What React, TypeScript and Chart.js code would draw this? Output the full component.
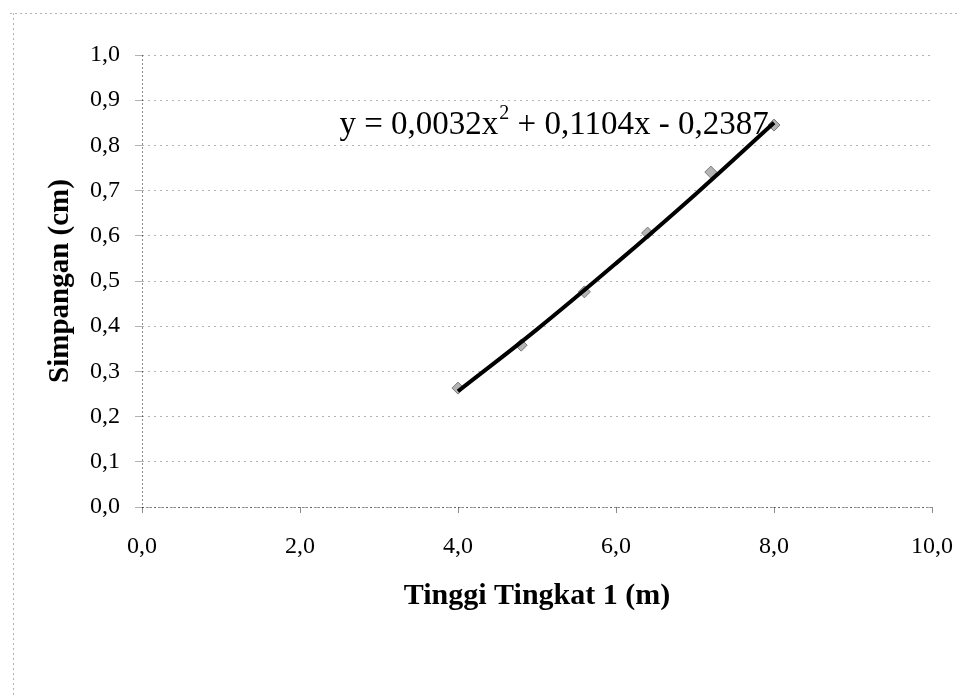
import React, { useEffect, useRef } from "react";
import { Chart, registerables } from "chart.js";

Chart.register(...registerables);

// Measured points (Tinggi Tingkat 1 vs Simpangan)
const pointX = [4.0, 4.8, 5.6, 6.4, 7.2, 8.0];
const pointY = [0.263, 0.358, 0.476, 0.606, 0.741, 0.845];

// Trendline
const trendX = [4.0, 5.0, 6.0, 7.0, 8.0];
const trendY = [0.256, 0.393, 0.539, 0.691, 0.85];

const xTicks = [0, 2, 4, 6, 8, 10];
const yTicks = [0, 0.1, 0.2, 0.3, 0.4, 0.5, 0.6, 0.7, 0.8, 0.9, 1.0];

const xTitle = "Tinggi Tingkat 1 (m)";
const yTitle = "Simpangan (cm)";
const eqMain = "y = 0,0032x";
const eqSup = "2";
const eqRest = " + 0,1104x - 0,2387";

const FONT = '"Liberation Serif", "Times New Roman", serif';

const fmt = (v: number) => v.toFixed(1).replace(".", ",");

const decorPlugin = {
  id: "decor",
  beforeDraw(chart: any) {
    const ctx = chart.ctx;
    ctx.save();
    ctx.strokeStyle = "rgba(0,0,0,0.3)";
    ctx.lineWidth = 1;
    ctx.setLineDash([2, 3]);
    ctx.beginPath();
    ctx.moveTo(10, 13.5);
    ctx.lineTo(958, 13.5);
    ctx.moveTo(13.5, 13);
    ctx.lineTo(13.5, 697);
    ctx.stroke();
    ctx.restore();
  },
  afterDatasetsDraw(chart: any) {
    const ctx = chart.ctx;
    const xs = chart.scales.x;
    const ys = chart.scales.y;
    const a = chart.chartArea;
    ctx.save();
    // dotted axis lines
    ctx.strokeStyle = "rgba(0,0,0,0.45)";
    ctx.lineWidth = 1;
    ctx.setLineDash([2, 2]);
    ctx.beginPath();
    ctx.moveTo(Math.round(a.left) + 0.5, a.top);
    ctx.lineTo(Math.round(a.left) + 0.5, a.bottom);
    ctx.moveTo(a.left, Math.round(a.bottom) + 0.5);
    ctx.lineTo(a.right, Math.round(a.bottom) + 0.5);
    ctx.stroke();
    ctx.setLineDash([]);
    // equation
    const x0 = xs.getPixelForValue(2.5);
    const yb = ys.getPixelForValue(0.826);
    ctx.fillStyle = "#000";
    ctx.textBaseline = "alphabetic";
    ctx.textAlign = "left";
    ctx.font = `33px ${FONT}`;
    ctx.fillText(eqMain, x0, yb);
    const w = ctx.measureText(eqMain).width;
    ctx.font = `20px ${FONT}`;
    ctx.fillText(eqSup, x0 + w + 1, yb - 15);
    const w2 = ctx.measureText(eqSup).width;
    ctx.font = `33px ${FONT}`;
    ctx.fillText(eqRest, x0 + w + w2 + 1, yb);
    ctx.restore();
  },
};

export default function App() {
  const ref = useRef<HTMLCanvasElement | null>(null);

  useEffect(() => {
    if (!ref.current) return;
    const chart = new Chart(ref.current, {
      type: "scatter",
      data: {
        datasets: [
          {
            type: "line",
            label: "trend",
            data: trendX.map((x, i) => ({ x, y: trendY[i] })),
            borderColor: "#000",
            borderWidth: 4,
            pointRadius: 0,
            tension: 0.4,
            fill: false,
            order: 0,
          },
          {
            type: "scatter",
            label: "data",
            data: pointX.map((x, i) => ({ x, y: pointY[i] })),
            pointStyle: "rectRot",
            pointRadius: 6,
            backgroundColor: "#b4b4b4",
            borderColor: "#7a7a7a",
            borderWidth: 1,
            order: 1,
          },
        ],
      },
      options: {
        animation: false,
        responsive: false,
        maintainAspectRatio: false,
        layout: { padding: { left: 39, right: 29, top: 55, bottom: 79 } },
        plugins: {
          legend: { display: false },
          tooltip: { enabled: false },
        },
        scales: {
          x: {
            type: "linear",
            min: 0,
            max: 10,
            afterBuildTicks: (s: any) => {
              s.ticks = xTicks.map((v) => ({ value: v }));
            },
            afterFit: (s: any) => {
              s.height = 111;
              s.paddingLeft = 0;
              s.paddingRight = 0;
            },
            ticks: {
              callback: (v: any) => fmt(Number(v)),
              color: "#000",
              font: { family: FONT, size: 24 },
              padding: 19,
              maxRotation: 0,
            },
            grid: {
              drawOnChartArea: false,
              drawTicks: true,
              tickLength: 6,
              color: "rgba(0,0,0,0.45)",
            },
            border: { display: false },
            title: {
              display: true,
              text: xTitle,
              color: "#000",
              font: { family: FONT, size: 30, weight: "bold" },
              padding: { top: 4, bottom: 4 },
            },
          },
          y: {
            type: "linear",
            min: 0,
            max: 1,
            afterBuildTicks: (s: any) => {
              s.ticks = yTicks.map((v) => ({ value: v }));
            },
            afterFit: (s: any) => {
              s.width = 103;
              s.paddingTop = 0;
              s.paddingBottom = 0;
            },
            ticks: {
              callback: (v: any) => fmt(Number(v)),
              color: "#000",
              font: { family: FONT, size: 24 },
              padding: 15,
            },
            grid: {
              color: "rgba(0,0,0,0.3)",
              drawTicks: true,
              tickLength: 7,
              lineWidth: 1,
            },
            border: { display: false, dash: [2, 4] },
            title: {
              display: true,
              text: yTitle,
              color: "#000",
              font: { family: FONT, size: 29, weight: "bold" },
              padding: { top: 4, bottom: 4 },
            },
          },
        },
      },
      plugins: [decorPlugin],
    } as any);
    return () => chart.destroy();
  }, []);

  return (
    <div style={{ position: "fixed", left: 0, top: 0, width: 961, height: 697, background: "#fff" }}>
      <canvas ref={ref} width={961} height={697} style={{ width: 961, height: 697, display: "block" }} />
    </div>
  );
}
